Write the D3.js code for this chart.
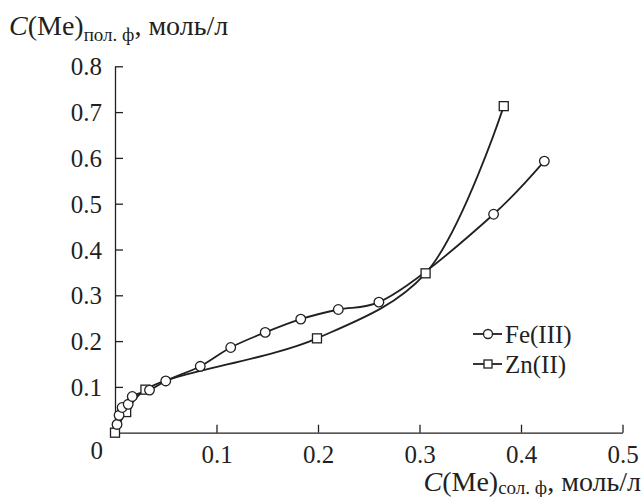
<!DOCTYPE html>
<html>
<head>
<meta charset="utf-8">
<script src="https://cdn.jsdelivr.net/npm/d3@7/dist/d3.min.js"></script>
<style>
  html, body { margin: 0; padding: 0; background: #fff; }
  svg { display: block; }
  svg text { font-family: "Liberation Serif", Tinos, "Times New Roman", Times, "DejaVu Serif", serif !important; fill: #231f20; }
</style>
</head>
<body>
<svg id="chart" width="643" height="497"></svg>
<script>
// ---- data ----
const feX = [0.002, 0.004, 0.007, 0.013, 0.017, 0.034, 0.050, 0.084, 0.114, 0.148, 0.183, 0.220, 0.260, 0.373, 0.423];
const feY = [0.018, 0.038, 0.055, 0.062, 0.079, 0.093, 0.113, 0.145, 0.186, 0.219, 0.248, 0.269, 0.285, 0.477, 0.593];
const znX = [0.000, 0.011, 0.030, 0.199, 0.306, 0.383];
const znY = [0.000, 0.045, 0.094, 0.206, 0.348, 0.713];
const xTicks = [0.1, 0.2, 0.3, 0.4, 0.5];
const yTicks = [0.1, 0.2, 0.3, 0.4, 0.5, 0.6, 0.7, 0.8];
const seriesNames = ["Fe(III)", "Zn(II)"];

const ink = "#231f20";
const svg = d3.select("#chart");

const x = d3.scaleLinear().domain([0, 0.5]).range([115, 622.5]);
const y = d3.scaleLinear().domain([0, 0.8]).range([432.7, 66.3]);

// axes
const xAxis = d3.axisBottom(x).tickValues(xTicks).tickSizeInner(-8).tickSizeOuter(0).tickPadding(12).tickFormat(d3.format(".1f"));
const yAxis = d3.axisLeft(y).tickValues(yTicks).tickSizeInner(-8).tickSizeOuter(0).tickPadding(12).tickFormat(d3.format(".1f"));

const gx = svg.append("g").attr("transform", `translate(0,${y(0)})`).call(xAxis);
const gy = svg.append("g").attr("transform", `translate(${x(0)},0)`).call(yAxis);
[gx, gy].forEach(g => {
  g.attr("font-family", null).attr("font-size", null);
  g.select(".domain").attr("stroke", ink).attr("stroke-width", 1.3);
  g.selectAll(".tick line").attr("stroke", ink).attr("stroke-width", 1.3);
  g.selectAll(".tick text").attr("fill", ink).style("font-size", "25px");
});
gx.selectAll(".tick text").attr("dy", "0.71em").attr("y", 13);
gy.selectAll(".tick text").attr("x", -13).attr("dy", "0.34em");

// corner zero
svg.append("text").attr("x", 103).attr("y", 459).attr("text-anchor", "end")
  .style("font-size", "25px").text("0");

// lines
const line = d3.line().x(d => x(d[0])).y(d => y(d[1])).curve(d3.curveCatmullRom.alpha(0.5));
const fe = feX.map((v, i) => [v, feY[i]]);
const zn = znX.map((v, i) => [v, znY[i]]);

svg.append("path").datum(zn).attr("d", line).attr("fill", "none").attr("stroke", ink).attr("stroke-width", 1.8);
svg.append("path").datum(fe).attr("d", line).attr("fill", "none").attr("stroke", ink).attr("stroke-width", 1.8);

// markers
svg.selectAll("rect.zn").data(zn).join("rect").attr("class", "zn")
  .attr("x", d => x(d[0]) - 4.5).attr("y", d => y(d[1]) - 4.5)
  .attr("width", 9).attr("height", 9)
  .attr("fill", "#fff").attr("stroke", ink).attr("stroke-width", 1.3);
svg.selectAll("circle.fe").data(fe).join("circle").attr("class", "fe")
  .attr("cx", d => x(d[0])).attr("cy", d => y(d[1])).attr("r", 4.8)
  .attr("fill", "#fff").attr("stroke", ink).attr("stroke-width", 1.3);

// legend
const lg = svg.append("g");
const lgY = [334, 364];
seriesNames.forEach((name, i) => {
  const cy = lgY[i];
  lg.append("line").attr("x1", 473).attr("x2", 502).attr("y1", cy).attr("y2", cy)
    .attr("stroke", ink).attr("stroke-width", 1.8);
  if (i === 0) {
    lg.append("circle").attr("cx", 488).attr("cy", cy).attr("r", 4.5)
      .attr("fill", "#fff").attr("stroke", ink).attr("stroke-width", 1.3);
  } else {
    lg.append("rect").attr("x", 484).attr("y", cy - 4).attr("width", 8).attr("height", 8)
      .attr("fill", "#fff").attr("stroke", ink).attr("stroke-width", 1.3);
  }
  lg.append("text").attr("x", 505).attr("y", cy).attr("dy", "0.35em")
    .style("font-size", "25px").text(name);
});

// y title
const ty = svg.append("text").attr("x", 9).attr("y", 35).style("font-size", "28px");
ty.append("tspan").style("font-style", "italic").text("C");
ty.append("tspan").text("(Me)");
ty.append("tspan").attr("dy", 6).style("font-size", "19px").text("пол. ф");
ty.append("tspan").attr("dy", -6).text(", моль/л");

// x title
const tx = svg.append("text").attr("x", 641).attr("y", 491).attr("text-anchor", "end").style("font-size", "28px");
tx.append("tspan").style("font-style", "italic").text("C");
tx.append("tspan").text("(Me)");
tx.append("tspan").attr("dy", 3).style("font-size", "19px").text("сол. ф");
tx.append("tspan").attr("dy", -3).text(", моль/л");
</script>
</body>
</html>
